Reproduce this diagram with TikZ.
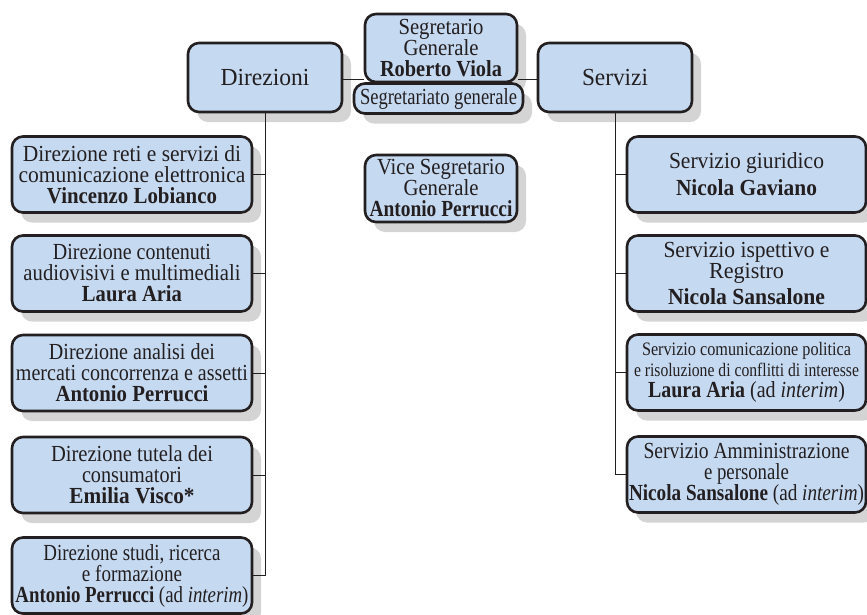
\documentclass[tikz,border=0pt]{standalone}
\usepackage{fontspec}
\setmainfont{Liberation Serif}
\usepackage{graphicx}
\usetikzlibrary{shadows}
\definecolor{boxblue}{RGB}{197,217,241}
\definecolor{ink}{RGB}{35,31,32}
\definecolor{shade}{RGB}{212,212,212}
\newcommand\fw[2]{\resizebox{#1pt}{\height}{#2}}
\tikzset{
  orgbox/.style={draw=ink, line width=2.6pt, fill=boxblue, rounded corners=11pt,
    align=center, inner sep=0pt, text=ink, font=\fontsize{23}{21}\selectfont,
    drop shadow={shadow xshift=9pt, shadow yshift=-10pt, fill=shade, opacity=1}},
  leftbox/.style={orgbox, minimum width=240pt, minimum height=76pt},
  rightbox/.style={orgbox, minimum width=239pt, minimum height=76pt},
  link/.style={draw=ink, line width=1pt}
}
\begin{document}
\begin{tikzpicture}[x=1pt,y=-1pt]
\useasboundingbox (0,0) rectangle (867,614);
% top row
\node[orgbox, minimum width=154pt, minimum height=69pt, font=\fontsize{24.5}{21}\selectfont] (dir) at (265,77.5) {\fw{89}{Direzioni}};
\node[orgbox, minimum width=154pt, minimum height=69pt, font=\fontsize{24.5}{21}\selectfont] (serv) at (615,77.5) {\fw{66}{Servizi}};
\node[orgbox, minimum width=152pt, minimum height=68pt] (seg) at (441,48) {\fw{85}{Segretario}\\\fw{75}{Generale}\\\fw{122}{\textbf{Roberto Viola}}};
\node[orgbox, minimum width=169pt, minimum height=30pt] (segr) at (438.5,98.5) {\fw{157}{Segretariato generale}};
\node[orgbox, minimum width=152pt, minimum height=67pt] (vice) at (441,188.5) {\fw{128}{Vice Segretario}\\\fw{75}{Generale}\\\fw{143}{\textbf{Antonio Perrucci}}};
% left column
\node[leftbox] (d1) at (132,174.5) {\fw{218}{Direzione reti e servizi di}\\\fw{227}{comunicazione elettronica}\\\fw{170}{\textbf{Vincenzo Lobianco}}};
\node[leftbox] (d2) at (132,273.5) {\fw{158}{Direzione contenuti}\\\fw{217}{audiovisivi e multimediali}\\\fw{100}{\textbf{Laura Aria}}};
\node[leftbox] (d3) at (132,373) {\fw{166}{Direzione analisi dei}\\\fw{232}{mercati concorrenza e assetti}\\\fw{153}{\textbf{Antonio Perrucci}}};
\node[leftbox] (d4) at (132,475) {\fw{162}{Direzione tutela dei}\\\fw{100}{consumatori}\\\fw{125}{\textbf{Emilia Visco*}}};
\node[leftbox] (d5) at (132,575.5) {\fw{177}{Direzione studi, ricerca}\\\fw{100}{e formazione}\\\fw{233}{\textbf{Antonio Perrucci} (ad \textit{interim})}};
% right column
\node[rightbox] (s1) at (746.5,174.5) {\fw{155}{Servizio giuridico}\\[6pt]\fw{141}{\textbf{Nicola Gaviano}}};
\node[rightbox] (s2) at (746.5,273.5) {\fw{166}{Servizio ispettivo e}\\\fw{75}{Registro}\\[5pt]\fw{157}{\textbf{Nicola Sansalone}}};
\node[rightbox] (s3) at (746.5,372.5) {{\fontsize{19}{20}\selectfont\fw{209}{Servizio comunicazione politica}}\\{\fontsize{19}{20}\selectfont\fw{225}{e risoluzione di conflitti di interesse}}\\\fw{197}{\textbf{Laura Aria} (ad \textit{interim})}};
\node[rightbox] (s4) at (746.5,474.5) {\fw{206}{Servizio Amministrazione}\\\fw{85}{e personale}\\\fw{235}{\textbf{Nicola Sansalone} (ad \textit{interim})}};
% connectors top
\coordinate (jl) at (265,79);
\coordinate (jr) at (615,79);
\draw[link] (dir.east |- jl) -- (seg.west |- jl);
\draw[link] (seg.east |- jr) -- (serv.west |- jr);
% left trunk
\draw[link] (dir.south) -- (dir.south |- d5.east);
\foreach \n in {d1,d2,d3,d4,d5}{
  \draw[link] (\n.east) -- (\n.east -| dir.south);
}
% right trunk
\draw[link] (serv.south) -- (serv.south |- s4.west);
\foreach \n in {s1,s2,s3,s4}{
  \draw[link] (\n.west) -- (\n.west -| serv.south);
}
\end{tikzpicture}
\end{document}
